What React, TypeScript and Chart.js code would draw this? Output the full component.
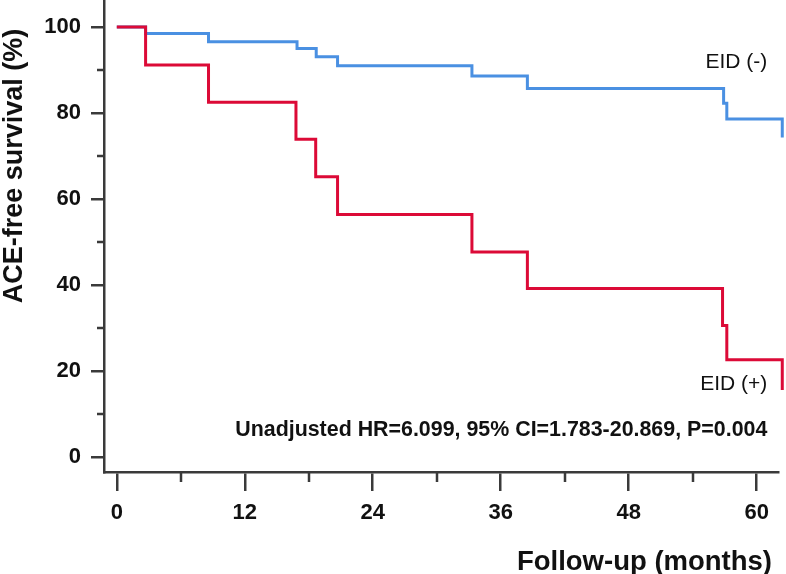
import React, { useEffect, useRef } from "react";
import { Chart, registerables } from "chart.js";

Chart.register(...registerables);

// ---- data ----
const monthsPos = [0, 2.7, 8.6, 16.8, 18.65, 20.7, 33.3, 38.5, 56.8, 57.2, 62.4];
const survivalPos = [100, 91.2, 82.5, 73.9, 65.2, 56.4, 47.7, 39.2, 30.6, 22.6, 15.6];
const monthsNeg = [0, 2.7, 8.6, 16.9, 18.7, 20.7, 33.3, 38.5, 56.9, 57.2, 62.4];
const survivalNeg = [100, 98.5, 96.6, 95.0, 93.1, 91.0, 88.6, 85.7, 82.3, 78.6, 74.3];

const seriesLabels = ["EID (+)", "EID (-)"];
const xTickValues = [0, 12, 24, 36, 48, 60];
const xTickLabels = ["0", "12", "24", "36", "48", "60"];
const xMinorTicks = [6, 18, 30, 42, 54];
const yTickValues = [0, 20, 40, 60, 80, 100];
const yTickLabels = ["0", "20", "40", "60", "80", "100"];
const yMinorTicks = [10, 30, 50, 70, 90];
const xTitle = "Follow-up (months)";
const yTitle = "ACE-free survival (%)";
const annotationText = "Unadjusted HR=6.099, 95% CI=1.783-20.869, P=0.004";

const FONT = "'Liberation Sans', Arial, Helvetica, sans-serif";
const AXIS = "#3a3a3a";
const RED = "#dc0a37";
const BLUE = "#4a90e2";

const decorPlugin = {
  id: "decor",
  afterDraw(chart: any) {
    const { ctx, chartArea } = chart;
    const x = chart.scales.x;
    const y = chart.scales.y;
    ctx.save();
    ctx.strokeStyle = AXIS;
    ctx.lineWidth = 2.5;
    ctx.beginPath();
    xMinorTicks.forEach((v) => {
      const px = Math.round(x.getPixelForValue(v));
      ctx.moveTo(px, chartArea.bottom);
      ctx.lineTo(px, chartArea.bottom + 10);
    });
    yMinorTicks.forEach((v) => {
      const py = Math.round(y.getPixelForValue(v));
      ctx.moveTo(chartArea.left - 7, py);
      ctx.lineTo(chartArea.left, py);
    });
    ctx.stroke();

    ctx.fillStyle = "#111";
    // series labels
    ctx.font = `normal 21px ${FONT}`;
    ctx.textAlign = "right";
    ctx.textBaseline = "middle";
    ctx.fillText(seriesLabels[1], x.getPixelForValue(61.0), y.getPixelForValue(91.9));
    ctx.fillText(seriesLabels[0], x.getPixelForValue(61.0), y.getPixelForValue(17.0));

    // annotation
    ctx.font = `bold 21.4px ${FONT}`;
    ctx.textBaseline = "alphabetic";
    ctx.fillText(annotationText, x.getPixelForValue(61.0), y.getPixelForValue(4.9));

    // axis titles
    ctx.font = `bold 27.5px ${FONT}`;
    ctx.textAlign = "right";
    ctx.fillText(xTitle, 772, 570);

    ctx.font = `bold 27px ${FONT}`;
    ctx.translate(22, 166);
    ctx.rotate(-Math.PI / 2);
    ctx.textAlign = "center";
    ctx.fillText(yTitle, 0, 0);
    ctx.restore();
  },
};

export default function App() {
  const ref = useRef<HTMLCanvasElement | null>(null);

  useEffect(() => {
    document.body.style.margin = "0";
    const canvas = ref.current;
    if (!canvas) return;
    const chart = new Chart(canvas, {
      type: "line",
      data: {
        datasets: [
          {
            label: seriesLabels[0],
            data: monthsPos.map((m, i) => ({ x: m, y: survivalPos[i] })),
            borderColor: RED,
            borderWidth: 3,
            stepped: "before",
            pointRadius: 0,
            fill: false,
            clip: false as any,
            borderJoinStyle: "miter",
          },
          {
            label: seriesLabels[1],
            data: monthsNeg.map((m, i) => ({ x: m, y: survivalNeg[i] })),
            borderColor: BLUE,
            borderWidth: 3,
            stepped: "before",
            pointRadius: 0,
            fill: false,
            clip: false as any,
            borderJoinStyle: "miter",
          },
        ],
      },
      options: {
        responsive: false,
        animation: false,
        layout: { padding: { left: 0, top: 0, right: 8, bottom: 0 } },
        plugins: {
          legend: { display: false },
          tooltip: { enabled: false },
        },
        scales: {
          x: {
            type: "linear",
            min: -1.2,
            max: 62,
            afterBuildTicks: (scale: any) => {
              scale.ticks = xTickValues.map((v) => ({ value: v }));
            },
            afterFit: (scale: any) => {
              scale.height = 102;
              scale.paddingLeft = 0;
              scale.paddingRight = 0;
            },
            border: { display: true, color: AXIS, width: 2.5 },
            grid: {
              drawOnChartArea: false,
              drawTicks: true,
              tickLength: 19,
              tickColor: AXIS,
              tickWidth: 2.5,
              color: AXIS,
              lineWidth: 2.5,
            },
            ticks: {
              autoSkip: false,
              maxRotation: 0,
              padding: 9,
              color: "#111",
              font: { family: FONT, size: 22, weight: "bold" },
              callback: (value: any) => xTickLabels[xTickValues.indexOf(Number(value))],
            },
          },
          y: {
            type: "linear",
            min: -3.5,
            max: 106.3,
            afterBuildTicks: (scale: any) => {
              scale.ticks = yTickValues.map((v) => ({ value: v }));
            },
            afterFit: (scale: any) => {
              scale.width = 104;
              scale.paddingTop = 0;
              scale.paddingBottom = 0;
            },
            border: { display: true, color: AXIS, width: 2.5 },
            grid: {
              drawOnChartArea: false,
              drawTicks: true,
              tickLength: 13,
              tickColor: AXIS,
              tickWidth: 2.5,
              color: AXIS,
              lineWidth: 2.5,
            },
            ticks: {
              autoSkip: false,
              padding: 10,
              color: "#111",
              font: { family: FONT, size: 22, weight: "bold" },
              callback: (value: any) => yTickLabels[yTickValues.indexOf(Number(value))],
            },
          },
        },
      },
      plugins: [decorPlugin],
    } as any);
    return () => chart.destroy();
  }, []);

  return (
    <div style={{ width: 786, height: 574, background: "#fff" }}>
      <canvas ref={ref} width={786} height={574} style={{ display: "block", width: 786, height: 574 }} />
    </div>
  );
}
